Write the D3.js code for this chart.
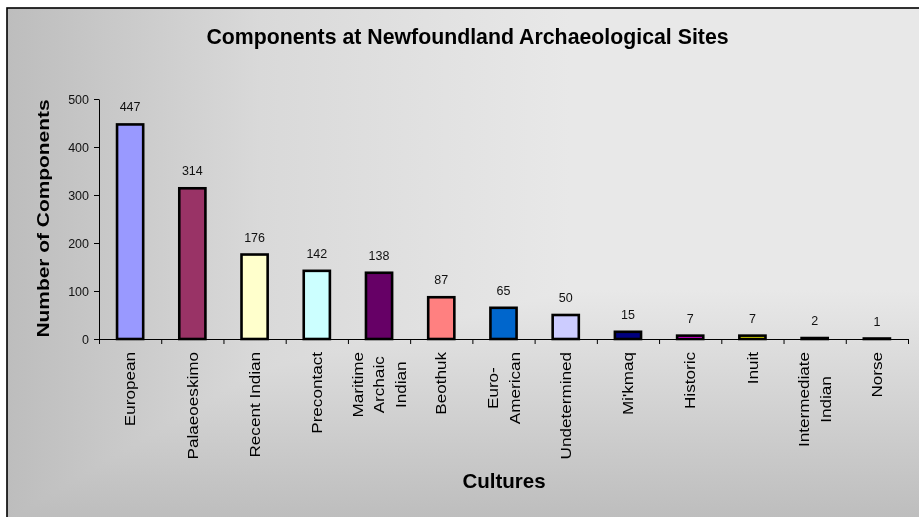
<!DOCTYPE html>
<html>
<head>
<meta charset="utf-8">
<script src="https://cdn.jsdelivr.net/npm/d3@7"></script>
<style>
html,body{margin:0;padding:0;background:#fff;}
svg{display:block;font-family:"Liberation Sans",Arial,sans-serif;}
</style>
</head>
<body>
<svg id="chart" width="919" height="517"></svg>
<script>
const categories = ["European","Palaeoeskimo","Recent Indian","Precontact","Maritime\nArchaic\nIndian","Beothuk","Euro-\nAmerican","Undetermined","Mi'kmaq","Historic","Inuit","Intermediate\nIndian","Norse"];
const values = [447,314,176,142,138,87,65,50,15,7,7,2,1];
const colors = ["#9999FF","#993366","#FFFFCC","#CCFFFF","#660066","#FF8080","#0066CC","#CCCCFF","#000080","#FF00FF","#FFFF00","#00FFFF","#800080"];
const yTicks = [0,100,200,300,400,500];
const title = "Components at Newfoundland Archaeological Sites";
const xTitle = "Cultures";
const yTitle = "Number of Components";

const svg = d3.select("#chart");
const defs = svg.append("defs");
const gh = defs.append("linearGradient").attr("id","gh").attr("gradientUnits","userSpaceOnUse")
  .attr("x1",7).attr("y1",0).attr("x2",570).attr("y2",0);
gh.append("stop").attr("offset",0).attr("stop-color","#bdbdbd");
gh.append("stop").attr("offset",0.45).attr("stop-color","#d9d9d9");
gh.append("stop").attr("offset",1).attr("stop-color","#e8e8e8");
const gv = defs.append("linearGradient").attr("id","gv").attr("gradientUnits","userSpaceOnUse")
  .attr("x1",0).attr("y1",290).attr("x2",0).attr("y2",525);
gv.append("stop").attr("offset",0).attr("stop-color","#e8e8e8");
gv.append("stop").attr("offset",1).attr("stop-color","#bcbcbc");

svg.append("rect").attr("x",7).attr("y",8).attr("width",1000).attr("height",1000).attr("fill","url(#gh)");
svg.append("rect").attr("x",7).attr("y",8).attr("width",1000).attr("height",1000).attr("fill","url(#gv)")
  .style("mix-blend-mode","darken");
svg.append("rect").attr("x",7).attr("y",8).attr("width",1000).attr("height",1000)
  .attr("fill","none").attr("stroke","#000").attr("stroke-width",1.6);

const x0 = 99, x1 = 908, yTop = 99, yBot = 339;
const y = d3.scaleLinear().domain([0,500]).range([yBot,yTop]);
const x = d3.scaleBand().domain(categories).range([x0,x1]).paddingInner(0.58).paddingOuter(0.29);
const xb = d3.scaleLinear().domain([0,categories.length]).range([x0,x1]);

// y axis
const yAxis = svg.append("g").attr("transform",`translate(${x0},0)`)
  .call(d3.axisLeft(y).tickValues(yTicks).tickSize(5).tickSizeOuter(0).tickPadding(5));
yAxis.select(".domain").attr("stroke","#000");
yAxis.selectAll(".tick line").attr("stroke","#000");
yAxis.selectAll(".tick text").attr("font-size","12.5px").attr("fill","#111").attr("font-family","Liberation Sans, Arial, sans-serif");

// bars
svg.append("g").selectAll("rect").data(values).join("rect")
  .attr("x",(d,i)=>x(categories[i]))
  .attr("width",x.bandwidth())
  .attr("y",d=>y(d))
  .attr("height",d=>yBot-y(d))
  .attr("fill",(d,i)=>colors[i])
  .attr("stroke","#000").attr("stroke-width",2.6);

// x axis
const xAxis = svg.append("g").attr("transform",`translate(0,${yBot})`)
  .call(d3.axisBottom(xb).tickValues(d3.range(categories.length+1)).tickFormat("").tickSize(5).tickSizeOuter(0));
xAxis.select(".domain").attr("stroke","#000");
xAxis.selectAll(".tick line").attr("stroke","#000");

// data labels
svg.append("g").selectAll("text").data(values).join("text")
  .attr("x",(d,i)=>x(categories[i])+x.bandwidth()/2)
  .attr("y",d=>y(d)-13)
  .attr("text-anchor","middle")
  .attr("font-size","12.5px").attr("fill","#111")
  .text(d=>d);

// category labels
const fs = 14.5, sx = 1.18, lh = 1.5*fs;
categories.forEach((c,i)=>{
  const lines = c.split("\n");
  const cx = x(c)+x.bandwidth()/2;
  const g = svg.append("g").attr("transform",`translate(${cx},352) rotate(-90) scale(${sx},1)`);
  const texts = lines.map((ln,j)=> g.append("text")
      .attr("font-size",fs+"px").attr("fill","#000")
      .attr("y",(j-(lines.length-1)/2)*lh + 0.36*fs)
      .text(ln));
  const widths = texts.map(t=>t.node().getComputedTextLength());
  const mw = d3.max(widths);
  texts.forEach((t)=>{ t.attr("x",-mw/2).attr("text-anchor","middle"); });
});

// titles
svg.append("text").attr("x",467.5).attr("y",44).attr("text-anchor","middle")
  .attr("font-size","21.3px").attr("font-weight","bold").text(title);
svg.append("text").attr("x",504).attr("y",488).attr("text-anchor","middle")
  .attr("font-size","20.5px").attr("font-weight","bold").text(xTitle);
svg.append("g").attr("transform",`translate(49,218.5) rotate(-90) scale(1.23,1)`)
  .append("text").attr("text-anchor","middle").attr("font-size","17px").attr("font-weight","bold").text(yTitle);
</script>
</body>
</html>
